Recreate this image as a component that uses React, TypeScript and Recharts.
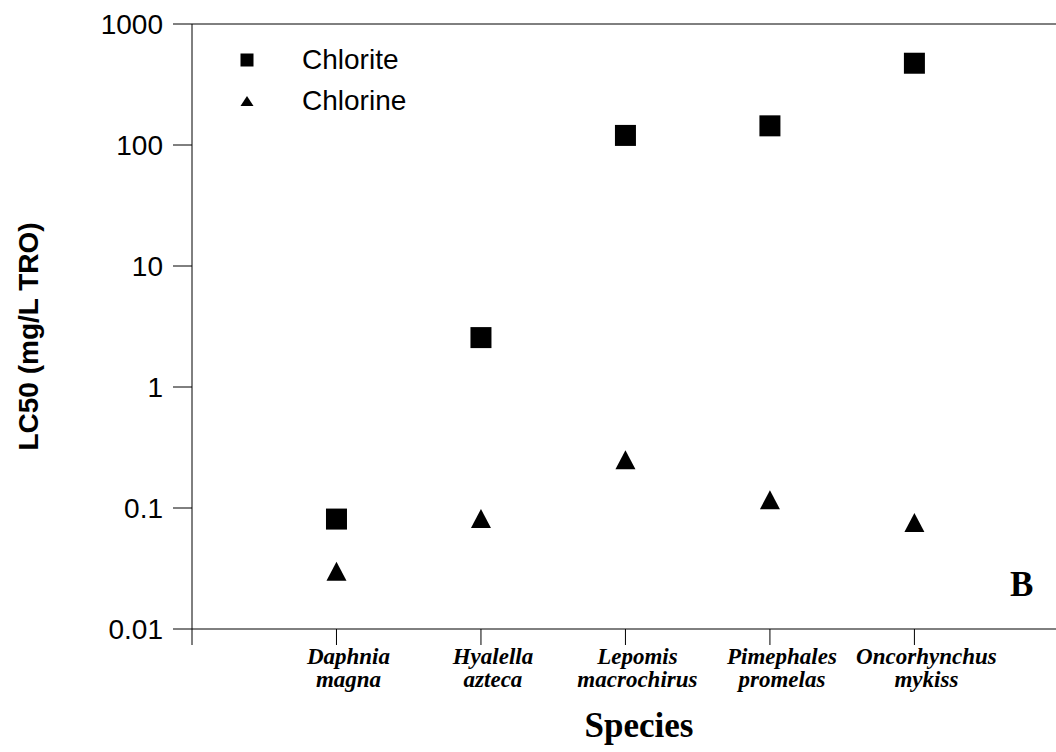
import { ScatterChart, Scatter, XAxis, YAxis, ReferenceLine, Legend, Customized } from 'recharts';

const species = [
  ['Daphnia', 'magna'],
  ['Hyalella', 'azteca'],
  ['Lepomis', 'macrochirus'],
  ['Pimephales', 'promelas'],
  ['Oncorhynchus', 'mykiss'],
];
const chlorite = [0.081, 2.56, 120, 144, 474];
const chlorine = [0.03, 0.082, 0.25, 0.117, 0.076];
const yTicks = [0.01, 0.1, 1, 10, 100, 1000];
const xTicks = [0, 1, 2, 3, 4, 5];

const chloriteData = chlorite.map((y, i) => ({ x: i + 1, y }));
const chlorineData = chlorine.map((y, i) => ({ x: i + 1, y }));

const sans = '"Liberation Sans", Arial, sans-serif';
const serif = '"Liberation Serif", "Times New Roman", serif';

const Square = (props: any) => {
  const { cx, cy } = props;
  return <rect x={cx - 10.5} y={cy - 10.5} width={21} height={21} fill="#000" />;
};

const Triangle = (props: any) => {
  const { cx, cy } = props;
  return <polygon points={`${cx},${cy - 9.5} ${cx + 10},${cy + 9.5} ${cx - 10},${cy + 9.5}`} fill="#000" />;
};

// two-line italic species names, nudged right of the tick like in the original
const SpeciesTick = (props: any) => {
  const { x, y, payload } = props;
  const name = species[payload.value - 1];
  if (!name) return null;
  return (
    <g fontFamily={serif} fontSize={23} fontWeight="bold" fontStyle="italic" fill="#000">
      <text x={x + 12} y={y + 19} textAnchor="middle">{name[0]}</text>
      <text x={x + 12} y={y + 42} textAnchor="middle">{name[1]}</text>
    </g>
  );
};

const LegendBox = () => (
  <div style={{ fontFamily: sans, fontSize: 28, color: '#000' }}>
    <div style={{ display: 'flex', alignItems: 'center', height: 41 }}>
      <svg width={65} height={20}>
        <rect x={3.5} y={3.5} width={13} height={13} fill="#000" />
      </svg>
      <span>Chlorite</span>
    </div>
    <div style={{ display: 'flex', alignItems: 'center', height: 41 }}>
      <svg width={65} height={20}>
        <polygon points="10,5 16.5,15 3.5,15" fill="#000" />
      </svg>
      <span>Chlorine</span>
    </div>
  </div>
);

const PanelLetter = () => (
  <text x={1010} y={596} fontFamily={serif} fontSize={35} fontWeight="bold" fill="#000">B</text>
);

export default function App() {
  return (
    <div>
      <style>{'body{margin:0;background:#fff}'}</style>
      <ScatterChart width={1056} height={752} margin={{ top: 24, right: 0, left: 0, bottom: 0 }}>
        <XAxis
          type="number"
          dataKey="x"
          domain={[0, 5.98]}
          ticks={xTicks}
          interval={0}
          height={123}
          tickSize={16}
          tickMargin={0}
          tick={<SpeciesTick />}
          axisLine={{ stroke: '#000', strokeWidth: 1 }}
          tickLine={{ stroke: '#000', strokeWidth: 1 }}
          allowDataOverflow
          label={(p: any) => {
            const vb = p.viewBox;
            return (
              <text x={vb.x + vb.width / 2 + 15} y={vb.y + 108} textAnchor="middle" fontFamily={serif} fontSize={35} fontWeight="bold" fill="#000">
                Species
              </text>
            );
          }}
        />
        <YAxis
          type="number"
          dataKey="y"
          scale="log"
          domain={[0.01, 1000]}
          ticks={yTicks}
          interval={0}
          allowDataOverflow
          width={192}
          tickSize={19}
          tickMargin={10}
          tickFormatter={(v: number) => String(v)}
          tick={{ fill: '#000', fontSize: 28, fontFamily: sans }}
          axisLine={{ stroke: '#000', strokeWidth: 1 }}
          tickLine={{ stroke: '#000', strokeWidth: 1 }}
          label={(p: any) => {
            const vb = p.viewBox;
            const cx = 27.5;
            const cy = vb.y + vb.height / 2 + 10;
            return (
              <text x={cx} y={cy} dy="0.36em" transform={`rotate(-90, ${cx}, ${cy})`} textAnchor="middle" fontFamily={sans} fontSize={28} fontWeight="bold" fill="#000">
                LC50 (mg/L TRO)
              </text>
            );
          }}
        />
        <ReferenceLine y={1000} stroke="#000" strokeWidth={1} />
        <Legend
          layout="vertical"
          align="center"
          verticalAlign="middle"
          content={<LegendBox />}
          wrapperStyle={{ position: 'absolute', left: 237, top: 39, width: 'auto', height: 'auto' }}
        />
        <Scatter name="Chlorite" data={chloriteData} shape={<Square />} isAnimationActive={false} />
        <Scatter name="Chlorine" data={chlorineData} shape={<Triangle />} isAnimationActive={false} />
        <Customized component={<PanelLetter />} />
      </ScatterChart>
    </div>
  );
}
